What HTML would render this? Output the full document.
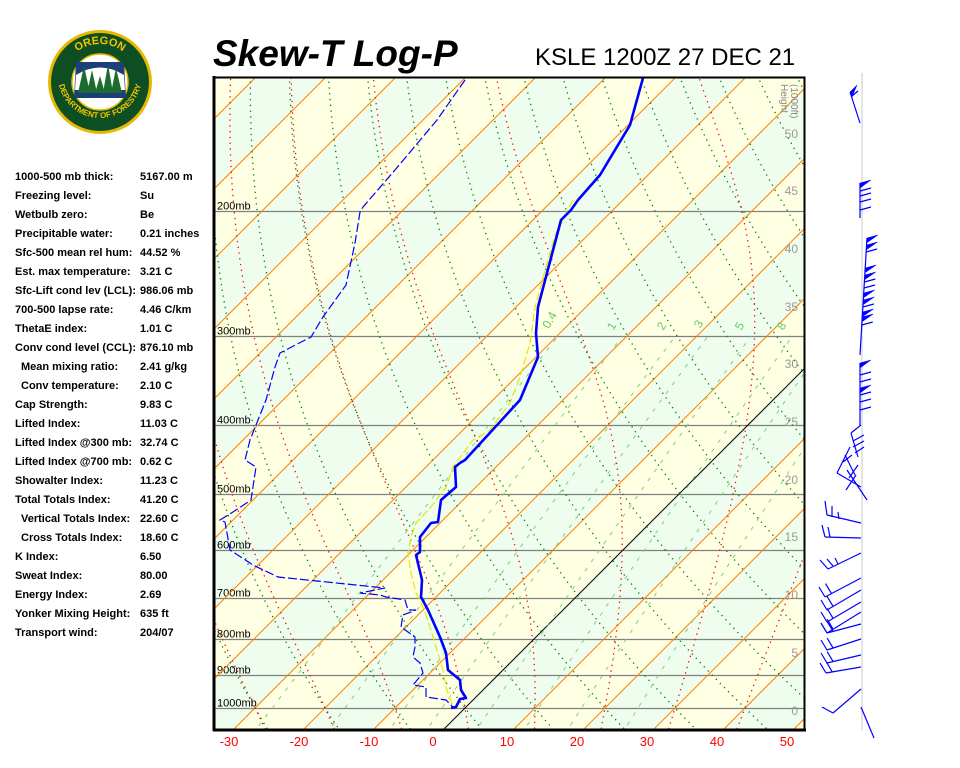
<!DOCTYPE html>
<html><head><meta charset="utf-8">
<style>
html,body{margin:0;padding:0;background:#fff;width:960px;height:768px;overflow:hidden}
svg{display:block}
.st{font:bold 11px "Liberation Sans",sans-serif;fill:#000}
</style></head>
<body>
<svg id="s" width="960" height="768" xmlns="http://www.w3.org/2000/svg">
<defs>
<clipPath id="cp"><rect x="215" y="78" width="589" height="651"/></clipPath>
<path id="arcTop" d="M62,82 A38,38 0 0 1 138,82"/>
<path id="arcBot" d="M58,76 A42,42 0 0 0 142,76"/>
</defs>
<circle cx="100" cy="82" r="52" fill="#e8b800"/>
<circle cx="100" cy="82" r="49" fill="#0d4f22"/>
<text font-family="Liberation Sans,sans-serif" font-weight="bold" font-size="11" fill="#f2c200"><textPath href="#arcTop" startOffset="50%" text-anchor="middle">OREGON</textPath></text>
<text font-family="Liberation Sans,sans-serif" font-weight="bold" font-size="8" fill="#f2c200"><textPath href="#arcBot" startOffset="50%" text-anchor="middle">DEPARTMENT OF FORESTRY</textPath></text>
<circle cx="100" cy="82" r="28" fill="#fff" stroke="#e8b800" stroke-width="1.5"/>
<path d="M76,62 L124,62 L126,98 L74,98 Z" fill="#1a3f7a"/>
<path d="M76,75 Q100,60 124,75 L125,90 L75,90 Z" fill="#fff"/>
<g fill="#1d6b2e"><path d="M78,93 L84,66 L90,93Z"/><path d="M87,93 L92,70 L97,93Z"/><path d="M103,93 L108,64 L113,93Z"/><path d="M111,93 L116,68 L122,93Z"/><path d="M95,93 L100,76 L105,93Z"/></g>

<g id="plot" clip-path="url(#cp)"></g>
<text x="213" y="66" font-family="Liberation Sans,sans-serif" font-weight="bold" font-style="italic" font-size="37">Skew-T Log-P</text>
<text x="535" y="65" font-family="Liberation Sans,sans-serif" font-size="24">KSLE 1200Z 27 DEC 21</text>
<g class="st" id="stats"></g>
<g font-family="Liberation Sans,sans-serif" font-size="13" fill="#ff0000" text-anchor="middle">
<text x="229" y="746">-30</text><text x="299" y="746">-20</text><text x="369" y="746">-10</text><text x="433" y="746">0</text><text x="507" y="746">10</text><text x="577" y="746">20</text><text x="647" y="746">30</text><text x="717" y="746">40</text><text x="787" y="746">50</text>
</g>
<rect x="214.5" y="77.5" width="590" height="652" fill="none" stroke="#000" stroke-width="2"/>
<line x1="214" y1="76" x2="214" y2="731" stroke="#000" stroke-width="3"/>
<line x1="213" y1="730" x2="806" y2="730" stroke="#000" stroke-width="3"/>
<line x1="862" y1="73" x2="862" y2="730" stroke="#e4e4e4" stroke-width="2"/>
<g id="barbs" stroke="#0000ff" stroke-width="1.2" fill="#0000ff"></g>
</svg>
<script>
var NS="http://www.w3.org/2000/svg";
function el(parent,tag,attrs,txt){var e=document.createElementNS(NS,tag);for(var k in attrs)e.setAttribute(k,attrs[k]);if(txt!==undefined)e.textContent=txt;parent.appendChild(e);return e;}
var P=document.getElementById('plot');
function yP(p){return 708-308.8*Math.log(1000/p);}
function pY(y){return 1000*Math.exp(-(708-y)/308.8);}
function xT(T,y){return 443+7*T+(730-y);}
for(var T=-160;T<60;T+=10){
 var k=Math.floor(T/10);var col=(Math.abs(k)%2==1)?"#ffffe4":"#effdee";
 var pts=[[xT(T,730),730],[xT(T+10,730),730],[xT(T+10,70),70],[xT(T,70),70]];
 el(P,'polygon',{points:pts.map(function(a){return a.join(',')}).join(' '),fill:col});
}
[200,300,400,500,600,700,800,900,1000].forEach(function(p){var y=Math.round(yP(p))+0.5;el(P,'line',{x1:213,y1:y,x2:806,y2:y,stroke:'#808080','stroke-width':1.3});el(P,'text',{x:217,y:y-2,'font-family':'Liberation Sans,sans-serif','font-size':11,fill:'#000'},p+'mb');});
for(var T=-160;T<=50;T+=10){el(P,'line',{x1:xT(T,731),y1:731,x2:xT(T,70),y2:70,stroke:(T==0?'#000':'#ff8000'),'stroke-width':1});}
for(var th=-60;th<=220;th+=10){var d='';for(var y=70;y<=735;y+=4){var p=pY(y);var t=(th+273.15)*Math.pow(p/1000,0.2857)-273.15;d+=(d?'L':'M')+xT(t,y).toFixed(1)+','+y;}
 el(P,'path',{d:d,fill:'none',stroke:'#008000','stroke-width':1.3,'stroke-dasharray':'1.3,4.5'});}
function es(tc){return 6.112*Math.exp(17.67*tc/(tc+243.5));}
function dTdp(T,p){var tc=T-273.15;var e=es(tc);var rs=0.622*e/(p-e);return (287*T+2.5e6*rs)/(p*(1004+2.5e6*2.5e6*rs*0.622/(287*T*T)));}
for(var tw=-40;tw<=50;tw+=10){var pts=[];var T=tw+273.15;for(var p=1000;p>=120;p-=2){pts.push([p,T]);T-=dTdp(T,p)*2;}
 var T2=tw+273.15;var dn=[];for(var p=1000;p<=1090;p+=2){dn.push([p,T2]);T2+=dTdp(T2,p)*2;}
 var all=dn.reverse().concat(pts);var d='';all.forEach(function(a){var y=yP(a[0]);d+=(d?'L':'M')+xT(a[1]-273.15,y).toFixed(1)+','+y.toFixed(1);});
 el(P,'path',{d:d,fill:'none',stroke:'#ff0000','stroke-width':1.3,'stroke-dasharray':'1.3,4.5'});}
var lbl={0.4:[553,322],1:[615,328],2:[665,328],3:[702,326],5:[743,328],8:[785,328]};
[0.4,1,2,3,5,8,12,20].forEach(function(w){var d='';for(var p=1090;p>=300;p-=5){var e=w*p/(622+w);var l=Math.log(e/6.112);var td=243.5*l/(17.67-l);var y=yP(p);d+=(d?'L':'M')+xT(td,y).toFixed(1)+','+y.toFixed(1);}
 el(P,'path',{d:d,fill:'none',stroke:'#77d477','stroke-width':1,'stroke-dasharray':'4,7'});
 if(lbl[w])el(P,'text',{x:lbl[w][0],y:lbl[w][1],'font-family':'Liberation Sans,sans-serif','font-size':12,fill:'#66cc66',transform:'rotate(-60 '+lbl[w][0]+' '+lbl[w][1]+')','text-anchor':'middle'},String(w));});
[[0,710],[5,652],[10,594],[15,536],[20,479],[25,421],[30,363],[35,306],[40,248],[45,190],[50,133]].forEach(function(a){el(P,'text',{x:798,y:a[1]+5,'font-family':'Liberation Sans,sans-serif','font-size':12,fill:'#999','text-anchor':'end'},String(a[0]));});
el(P,'text',{x:781,y:84,'font-family':'Liberation Sans,sans-serif','font-size':10,fill:'#888',transform:'rotate(90 781 84)'},'Height');
el(P,'text',{x:791,y:84,'font-family':'Liberation Sans,sans-serif','font-size':10,fill:'#888',transform:'rotate(90 791 84)'},'(1000ft)');
function poly(pts,attrs){attrs.points=pts.map(function(a){return a.join(',')}).join(' ');attrs.fill='none';el(P,'polyline',attrs);}
poly([[573,200],[556,233],[546,267],[535,307],[530,343],[520,377],[510,403],[490,430],[473,440],[453,467],[446,487],[431,507],[416,523],[411,537],[408,553],[411,573],[416,593],[423,607],[430,627],[436,647],[443,670],[446,687],[453,707]],{stroke:'#e6e600','stroke-width':1.2,'stroke-dasharray':'8,3'});
poly([[465,80],[437,120],[395,170],[363,207],[360,212],[355,243],[346,285],[323,317],[311,337],[280,353],[275,367],[266,400],[250,440],[245,460],[256,467],[251,500],[233,512],[220,520],[225,522],[230,550],[253,565],[278,577],[356,585],[385,588],[360,593],[380,595],[386,597],[405,600],[408,610],[416,610],[403,615],[401,627],[415,637],[415,647],[413,657],[420,663],[423,673],[413,685],[426,687],[426,697],[446,700],[453,707]],{stroke:'#0000ff','stroke-width':1.2,'stroke-dasharray':'9,3'});
poly([[643,78],[630,125],[600,175],[578,200],[571,210],[561,220],[538,307],[536,333],[538,357],[520,400],[465,460],[460,463],[455,467],[456,487],[441,500],[438,522],[431,523],[420,537],[420,552],[416,555],[422,580],[421,597],[428,610],[440,637],[446,653],[448,670],[460,680],[461,690],[466,698],[460,699],[456,707],[451,708]],{stroke:'#0000ff','stroke-width':2.6,'stroke-linejoin':'round'});
var S=document.getElementById('stats');
var rows=[["1000-500 mb thick:","5167.00 m"],["Freezing level:","Su"],["Wetbulb zero:","Be"],["Precipitable water:","0.21 inches"],["Sfc-500 mean rel hum:","44.52 %"],["Est. max temperature:","3.21 C"],["Sfc-Lift cond lev (LCL):","986.06 mb"],["700-500 lapse rate:","4.46 C/km"],["ThetaE index:","1.01 C"],["Conv cond level (CCL):","876.10 mb"],[" Mean mixing ratio:","2.41 g/kg"],[" Conv temperature:","2.10 C"],["Cap Strength:","9.83 C"],["Lifted Index:","11.03 C"],["Lifted Index @300 mb:","32.74 C"],["Lifted Index @700 mb:","0.62 C"],["Showalter Index:","11.23 C"],["Total Totals Index:","41.20 C"],[" Vertical Totals Index:","22.60 C"],[" Cross Totals Index:","18.60 C"],["K Index:","6.50"],["Sweat Index:","80.00"],["Energy Index:","2.69"],["Yonker Mixing Height:","635 ft"],["Transport wind:","204/07"]];
rows.forEach(function(r,i){var y=180+i*19;var ind=r[0].charAt(0)==' ';el(S,'text',{x:ind?21:15,y:y},r[0].trim());el(S,'text',{x:140,y:y},r[1]);});
var B=document.getElementById('barbs');
function L(a,b,c,d){el(B,'line',{x1:a,y1:b,x2:c,y2:d,fill:'none'});}
function F(pts){el(B,'polygon',{points:pts.map(function(a){return a.join(',')}).join(' '),'stroke-width':0.5});}
L(860,123,850,92);F([[850,92],[857,85],[852,97]]);L(852,96,858,91);
L(860,218,860,183);F([[860,183],[871,180],[860,188]]);[191,196,202,210].forEach(function(y){L(860,y,871,y-3);});
L(860,355,867,238);[238,245,268,275,293,300,312,317].forEach(function(y){var x=867-(y-238)*7/117;F([[x,y],[x+11,y-3],[x-0.5,y+5]]);});[252,282,288,307,325].forEach(function(y){var x=867-(y-238)*7/117;L(x,y,x+11,y-3);});
L(860,425,860,363);[363,388].forEach(function(y){F([[860,y],[871,y-3],[860,y+5]]);});[375,382,395,402,410].forEach(function(y){L(860,y,871,y-3);});
L(861,425,851,433);L(851,433,858,457);L(864,435,853,441);L(864,441,853,447);L(864,447,855,453);L(861,487,837,473);L(837,473,850,447);L(867,500,847,470);L(855,475,845,455);L(843,462,852,455);L(849,478,858,465);L(846,490,856,475);
L(861,523,827,515);L(827,515,825,501);L(832,517,832,506);L(839,519,838,512);
L(861,538,825,537);L(825,537,822,525);L(830,537,828,527);
L(861,553,828,569);L(828,569,820,560);L(833,566,827,559);L(838,564,835,558);
[[578,825,597],[590,827,610],[602,827,622],[612,827,633],[624,827,633],[639,827,650],[655,827,663],[667,826,673]].forEach(function(b){L(861,b[0],b[1],b[2]);L(b[1],b[2],b[1]-6,b[2]-10);var dx=861-b[1],dy=b[0]-b[2];var x2=b[1]+dx*0.18,y2=b[2]+dy*0.18;L(x2,y2,x2-6,y2-10);});
L(861,689,833,713);L(833,713,822,707);L(861,707,874,738);
</script>
</body></html>
